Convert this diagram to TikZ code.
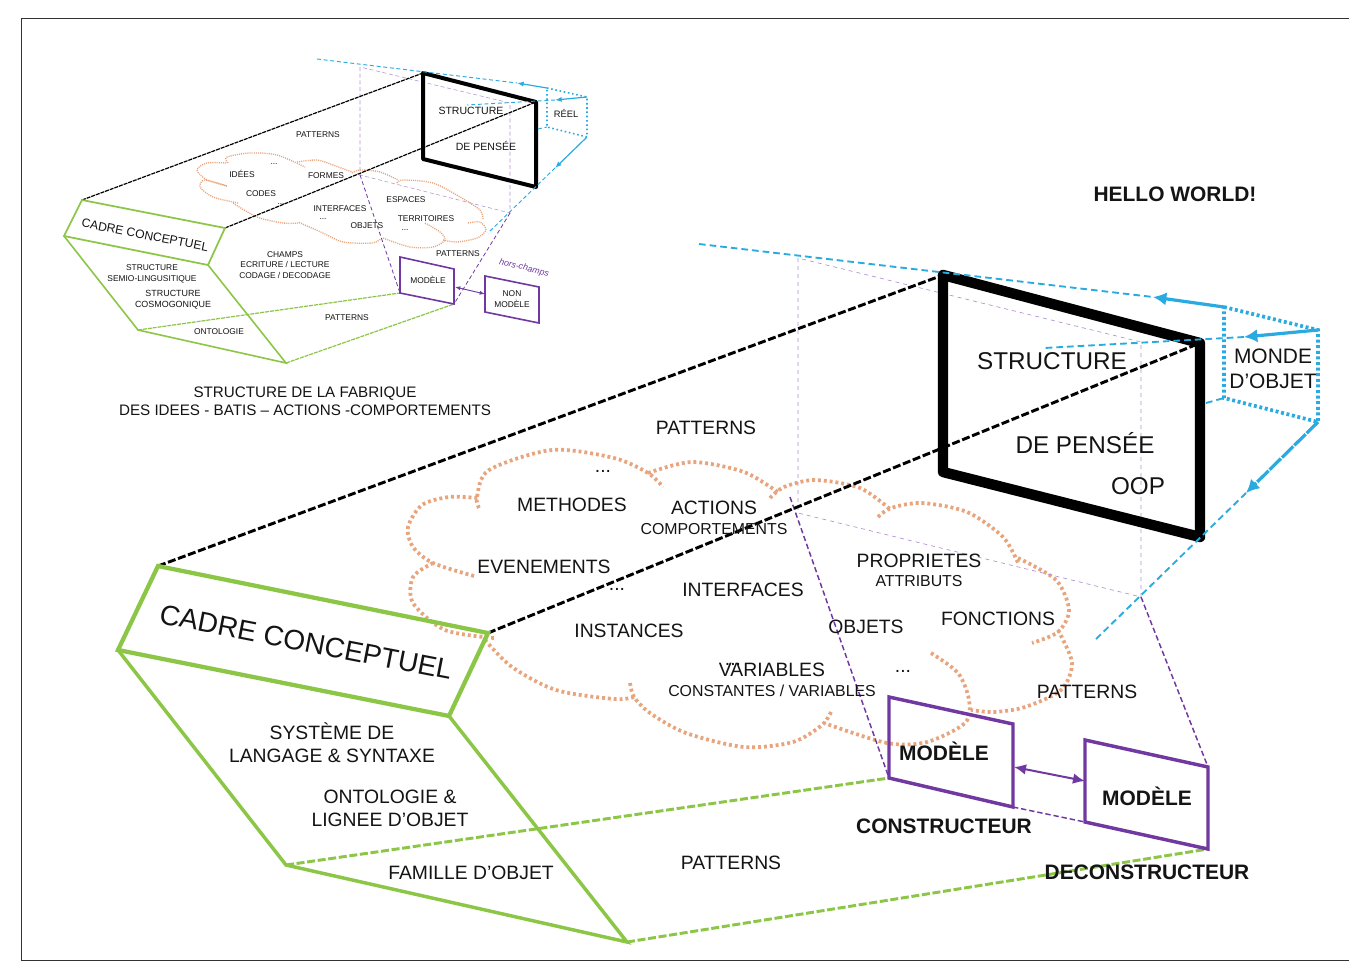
\documentclass[tikz,border=0pt]{standalone}
\usepackage{fontspec}
\setmainfont{Liberation Sans}
\usetikzlibrary{arrows.meta}
\definecolor{framegreen}{RGB}{140, 198, 70}
\definecolor{modelpurple}{RGB}{112, 56, 160}
\definecolor{palepurple}{RGB}{178, 145, 208}
\definecolor{worldblue}{RGB}{41, 171, 226}
\definecolor{cloudorange}{RGB}{232, 165, 125}
\definecolor{inkgrey}{RGB}{20, 20, 20}
\tikzset{
  lab/.style={text=inkgrey, inner sep=0pt, align=center},
  tinylab/.style={lab, font=\fontsize{6.3}{8}\selectfont},
  midlab/.style={lab, font=\fontsize{7.9}{9}\selectfont},
  sublab/.style={lab, font=\fontsize{11.9}{14}\selectfont},
  biglab/.style={lab, font=\fontsize{14.5}{17.2}\selectfont},
  hugelab/.style={lab, font=\fontsize{18.2}{22}\selectfont},
  boldlab/.style={lab, font=\fontsize{15.7}{19}\selectfont\bfseries},
  cloudbig/.style={cloudorange, line width=2.8pt, dash pattern=on 2.2pt off 2.2pt},
  cloudsmall/.style={cloudorange, line width=1pt, dash pattern=on 0.8pt off 0.8pt},
  longdash/.style={dash pattern=on 6pt off 2pt},
  smalldash/.style={dash pattern=on 3pt off 0.7pt},
  bluedash/.style={dash pattern=on 5pt off 3pt},
  purpledash/.style={dash pattern=on 4pt off 2.2pt},
}
\begin{document}
\begin{tikzpicture}[x=0.75pt, y=-0.75pt]
  \useasboundingbox (0,0) rectangle (1349,961);
  \fill[white] (0,0) rectangle (1349,961);
  \coordinate (pageA) at (21,960);
  \coordinate (pageB) at (21,18);
  \coordinate (pageC) at (1349,18);
  \coordinate (pageD) at (1349,960);
  \draw[black!80, line width=0.7pt] (pageA) -- (pageB) -- (pageC);
  \draw[black!80, line width=0.7pt] (pageA) -- (pageD);

  % small drawing, corners
  \coordinate (sf1) at (423,73);
  \coordinate (sf2) at (536,102);
  \coordinate (sf3) at (536,187);
  \coordinate (sf4) at (423,159);
  \coordinate (sc1) at (82,200);
  \coordinate (sc2) at (225,228);
  \coordinate (sc3) at (208,265);
  \coordinate (sc4) at (64,236);
  \coordinate (sc5) at (138,330);
  \coordinate (sc6) at (286,363);
  \coordinate (sm1) at (400,257);
  \coordinate (sm2) at (454,269);
  \coordinate (sm3) at (454,304);
  \coordinate (sm4) at (400,293);
  \coordinate (sn1) at (485,276);
  \coordinate (sn2) at (539,287);
  \coordinate (sn3) at (539,323);
  \coordinate (sn4) at (485,312);
  \coordinate (sp1) at (360,67);
  \coordinate (sp2) at (360,175);
  \coordinate (sp3) at (510,103);
  \coordinate (sp4) at (510,213);
  \coordinate (sb1) at (547,88);
  \coordinate (sb2) at (587,97);
  \coordinate (sb3) at (587,137);
  \coordinate (sb4) at (547,127);
  \coordinate (sb5) at (317,59);
  \coordinate (sb6) at (517,83);
  \coordinate (sb7) at (555,100);
  \coordinate (sb8) at (467,105);
  \coordinate (sb9) at (555,168);
  \coordinate (sb10) at (488,233);
  \coordinate (sb11) at (538,129);
  \coordinate (sa1) at (455,287);
  \coordinate (sa2) at (485,294);

  % small cloud
  \draw[cloudsmall] plot[smooth] coordinates {(228,163) (227,157) (250,153) (277,155) (305,167)};
  \draw[cloudsmall] plot[smooth] coordinates {(297,162) (317,160) (333,165) (352,172)};
  \draw[cloudsmall] plot[smooth] coordinates {(352,173) (360,170) (380,172) (398,180)};
  \draw[cloudsmall] plot[smooth] coordinates {(397,183) (403,180) (433,183) (460,197) (480,210) (483,220)};
  \draw[cloudsmall] plot[smooth] coordinates {(468,223) (480,222) (486,230) (477,238) (457,242) (443,240)};
  \draw[cloudsmall] plot[smooth] coordinates {(425,223) (440,232) (445,240) (433,247) (410,247) (383,238)};
  \draw[cloudsmall] plot[smooth] coordinates {(382,238) (372,243) (343,242) (323,233) (298,222)};
  \draw[cloudsmall] plot[smooth] coordinates {(298,223) (283,223) (257,217) (233,203)};
  \draw[cloudsmall] plot[smooth] coordinates {(238,203) (213,197) (200,187) (205,180) (227,186)};
  \draw[cloudsmall] plot[smooth] coordinates {(227,186) (207,180) (197,170) (207,163) (227,163)};

  % small drawing, lines
  \draw[palepurple, line width=0.4pt, densely dashed] (sp1) -- (sp2) -- (sp4) -- (sp3) -- cycle;
  \draw[modelpurple, line width=0.6pt, densely dashed] (sp2) -- (sm4);
  \draw[modelpurple, line width=0.6pt, densely dashed] (sp4) -- (sm3);
  \draw[black, line width=0.9pt, smalldash] (sc1) -- (sf1);
  \draw[black, line width=0.9pt, smalldash] (sc2) -- (sf2);
  \draw[framegreen, line width=0.9pt, smalldash] (sc5) -- (sm4);
  \draw[framegreen, line width=0.9pt, smalldash] (sc6) -- (sm3);
  \draw[black, line width=3pt, line join=round] (sf1) -- (sf2) -- (sf3) -- (sf4) -- cycle;
  \draw[framegreen, line width=1.3pt] (sc1) -- (sc2) -- (sc3) -- (sc4) -- cycle;
  \draw[framegreen, line width=1.2pt] (sc4) -- (sc5) -- (sc6) -- (sc3);
  \draw[modelpurple, line width=1.2pt] (sm1) -- (sm2) -- (sm3) -- (sm4) -- cycle;
  \draw[modelpurple, line width=1.2pt] (sn1) -- (sn2) -- (sn3) -- (sn4) -- cycle;
  \draw[modelpurple, line width=0.7pt, {Latex[length=4pt]}-{Latex[length=4pt]}] (sa1) -- (sa2);
  \draw[worldblue, line width=0.7pt, densely dashed] (sb5) -- (sb6);
  \draw[worldblue, line width=0.7pt, densely dashed] (sb7) -- (sb8);
  \draw[worldblue, line width=0.7pt, densely dashed] (sb9) -- (sb10);
  \draw[worldblue, line width=0.7pt, densely dashed] (sb11) -- (sb4);
  \draw[worldblue, line width=1.2pt, dotted] (sb1) -- (sb2) -- (sb3) -- (sb4) -- cycle;
  \draw[worldblue, line width=0.9pt, -{Latex[length=5pt]}] (sb1) -- (sb6);
  \draw[worldblue, line width=0.9pt, -{Latex[length=5pt]}] (sb2) -- (sb7);
  \draw[worldblue, line width=0.9pt, -{Latex[length=5pt]}] (sb3) -- (sb9);

  % small drawing, texts
  \node[midlab] (sstruct) at (471,111) {STRUCTURE};
  \node[midlab] (spensee) at (486,146) {DE PENSÉE};
  \node[lab, font=\fontsize{7}{8}\selectfont] (sreel) at (566,113) {RÉEL};
  \node[tinylab] (spat1) at (318,135) {PATTERNS};
  \node[tinylab] (sdots1) at (274,164) {...};
  \node[tinylab] (sidees) at (242,174) {IDÉES};
  \node[tinylab] (sformes) at (326,176) {FORMES};
  \node[tinylab] (scodes) at (261,194) {CODES};
  \node[tinylab] (sdots2) at (281,204) {...};
  \node[tinylab] (sinterf) at (340,209) {INTERFACES};
  \node[tinylab] (sdots3) at (323,219) {...};
  \node[tinylab] (sespaces) at (406,200) {ESPACES};
  \node[tinylab] (sobjets) at (367,226) {OBJETS};
  \node[tinylab] (sterr) at (426,219) {TERRITOIRES};
  \node[tinylab] (sdots4) at (405,230) {...};
  \node[tinylab] (spat2) at (458,254) {PATTERNS};
  \node[tinylab] (schamps) at (285,265) {CHAMPS\\ECRITURE / LECTURE\\CODAGE / DECODAGE};
  \node[tinylab] (ssemio) at (152,274) {STRUCTURE\\SEMIO-LINGUSITIQUE};
  \node[lab, font=\fontsize{6.7}{8.2}\selectfont] (scosmo) at (173,299.5) {STRUCTURE\\COSMOGONIQUE};
  \node[tinylab] (sonto) at (219,332) {ONTOLOGIE};
  \node[tinylab] (spat3) at (347,318) {PATTERNS};
  \node[tinylab] (smodele) at (428,280) {MODÈLE};
  \node[tinylab] (snon) at (512,299) {NON\\MODÈLE};
  \node[lab, font=\fontsize{9.1}{11}\selectfont, rotate=-11] (scadre) at (145,235) {CADRE CONCEPTUEL};
  \node[lab, font=\fontsize{6.6}{8}\selectfont\itshape, text=modelpurple, rotate=-14] (shors) at (524,268) {hors-champs};
  \node[lab, font=\fontsize{11.4}{13.5}\selectfont] (sfab) at (305,401) {STRUCTURE DE LA FABRIQUE\\DES IDEES - BATIS – ACTIONS -COMPORTEMENTS};

  % big drawing, corners
  \coordinate (bf1) at (943,275);
  \coordinate (bf2) at (1200,343);
  \coordinate (bf3) at (1200,537);
  \coordinate (bf4) at (943,472);
  \coordinate (bc1) at (158,566);
  \coordinate (bc2) at (488,633);
  \coordinate (bc3) at (449,716);
  \coordinate (bc4) at (118,650);
  \coordinate (bc5) at (286,865);
  \coordinate (bc6) at (627,942);
  \coordinate (bm1) at (889,697);
  \coordinate (bm2) at (1013,724);
  \coordinate (bm3) at (1013,807);
  \coordinate (bm4) at (889,778);
  \coordinate (bn1) at (1085,740);
  \coordinate (bn2) at (1208,767);
  \coordinate (bn3) at (1208,849);
  \coordinate (bn4) at (1085,822);
  \coordinate (bp1) at (798,258);
  \coordinate (bp2) at (798,513);
  \coordinate (bp3) at (1141,342);
  \coordinate (bp4) at (1141,597);
  \coordinate (bp5) at (790,497);
  \coordinate (bb1) at (1224,307);
  \coordinate (bb2) at (1318,330);
  \coordinate (bb3) at (1318,422);
  \coordinate (bb4) at (1224,398);
  \coordinate (bb5) at (699,244);
  \coordinate (bb6) at (1153,297);
  \coordinate (bb7) at (1244,337);
  \coordinate (bb8) at (1044,348);
  \coordinate (bb9) at (1246,493);
  \coordinate (bb10) at (1094,641);
  \coordinate (bb11) at (1206,403);
  \coordinate (ba1) at (1014,767);
  \coordinate (ba2) at (1085,781);

  % big cloud
  \draw[cloudbig] plot[smooth] coordinates {(479,508) (477,497) (489,470) (552,450) (614,458) (648,473) (663,487)};
  \draw[cloudbig] plot[smooth] coordinates {(648,473) (692,462) (744,472) (779,493)};
  \draw[cloudbig] plot[smooth] coordinates {(770,498) (784,487) (815,480) (860,488) (891,510)};
  \draw[cloudbig] plot[smooth] coordinates {(878,517) (891,508) (922,503) (967,512) (1003,537) (1018,563)};
  \draw[cloudbig] plot[smooth] coordinates {(1018,558) (1056,580) (1069,610) (1058,632) (1032,643)};
  \draw[cloudbig] plot[smooth] coordinates {(1058,630) (1072,663) (1061,690) (1025,707) (994,712) (971,710)};
  \draw[cloudbig] plot[smooth] coordinates {(931,653) (958,673) (969,700) (965,723) (927,742) (887,743) (824,723)};
  \draw[cloudbig] plot[smooth] coordinates {(831,712) (822,725) (793,742) (744,747) (686,733) (650,713) (634,697) (630,683)};
  \draw[cloudbig] plot[smooth] coordinates {(634,697) (614,699) (556,690) (512,667) (485,640)};
  \draw[cloudbig] plot[smooth] coordinates {(494,638) (445,630) (413,603) (413,577) (433,563)};
  \draw[cloudbig] plot[smooth] coordinates {(474,576) (433,563) (413,547) (408,527) (422,505) (449,497) (478,498)};

  % big drawing, lines
  \draw[palepurple, line width=0.5pt, dashed] (bp1) -- (bp2) -- (bp4) -- (bp3) -- cycle;
  \draw[modelpurple, line width=1.1pt, purpledash] (bp5) -- (bm4);
  \draw[modelpurple, line width=1.1pt, purpledash] (bp4) -- (bn2);
  \draw[modelpurple, line width=1.1pt, purpledash] (bm3) -- (bn4);
  \draw[black, line width=2.2pt, longdash] (bc1) -- (bf1);
  \draw[black, line width=2.2pt, longdash] (bc2) -- (bf2);
  \draw[framegreen, line width=2.2pt, longdash] (bc5) -- (bm4);
  \draw[framegreen, line width=2.2pt, longdash] (bc6) -- (bn3);
  \draw[black, line width=7.8pt, line join=round] (bf1) -- (bf2) -- (bf3) -- (bf4) -- cycle;
  \draw[framegreen, line width=3.2pt] (bc1) -- (bc2) -- (bc3) -- (bc4) -- cycle;
  \draw[framegreen, line width=2.6pt] (bc4) -- (bc5) -- (bc6) -- (bc3);
  \draw[modelpurple, line width=2.6pt] (bm1) -- (bm2) -- (bm3) -- (bm4) -- cycle;
  \draw[modelpurple, line width=2.6pt] (bn1) -- (bn2) -- (bn3) -- (bn4) -- cycle;
  \draw[modelpurple, line width=1.5pt, {Latex[length=9pt,width=8pt]}-{Latex[length=9pt,width=8pt]}] (ba1) -- (ba2);
  \draw[worldblue, line width=1.4pt, bluedash] (bb5) -- (bb6);
  \draw[worldblue, line width=1.4pt, bluedash] (bb7) -- (bb8);
  \draw[worldblue, line width=1.4pt, bluedash] (bb9) -- (bb10);
  \draw[worldblue, line width=1.4pt, bluedash] (bb11) -- (bb4);
  \draw[worldblue, line width=2.8pt, dash pattern=on 2.2pt off 2pt] (bb1) -- (bb2) -- (bb3) -- (bb4) -- cycle;
  \draw[worldblue, line width=2.4pt, -{Latex[length=10pt,width=10pt]}] (bb1) -- (bb6);
  \draw[worldblue, line width=2.4pt, -{Latex[length=10pt,width=10pt]}] (bb2) -- (bb7);
  \draw[worldblue, line width=2.4pt, dash pattern=on 12pt off 1pt, -{Latex[length=10pt,width=10pt]}] (bb3) -- (bb9);

  % big drawing, texts
  \node[boldlab] (bhello) at (1175,194) {HELLO WORLD!};
  \node[hugelab] (bstruct) at (1052,361) {STRUCTURE};
  \node[hugelab] (bpensee) at (1085,443) {DE PENSÉE};
  \node[hugelab] (boop) at (1138,486) {OOP};
  \node[lab, font=\fontsize{15.7}{18.4}\selectfont] (bmonde) at (1273,369) {MONDE\\D’OBJET};
  \node[biglab] (bpat1) at (706,428) {PATTERNS};
  \node[biglab] (bdots1) at (603,471) {...};
  \node[biglab] (bmeth) at (572,505) {METHODES};
  \node[biglab] (bactions) at (714,508) {ACTIONS};
  \node[sublab] (bcompo) at (714,529) {COMPORTEMENTS};
  \node[biglab] (bevent) at (544,567) {EVENEMENTS};
  \node[biglab] (bdots2) at (617,589) {...};
  \node[biglab] (binterf) at (743,590) {INTERFACES};
  \node[biglab] (bprop) at (919,561) {PROPRIETES};
  \node[sublab] (battr) at (919,581) {ATTRIBUTS};
  \node[biglab] (bfonc) at (998,619) {FONCTIONS};
  \node[biglab] (binst) at (629,631) {INSTANCES};
  \node[biglab] (bobjets) at (866,627) {OBJETS};
  \node[biglab] (bvar) at (772,670) {VARIABLES};
  \node[sublab] (bconst) at (772,691) {CONSTANTES / VARIABLES};
  \node[biglab] (bdots4) at (733,664) {...};
  \node[biglab] (bdots3) at (903,671) {...};
  \node[biglab] (bpat2) at (1087,692) {PATTERNS};
  \node[biglab] (bsys) at (332,743) {SYSTÈME DE\\LANGAGE \& SYNTAXE};
  \node[biglab] (bonto) at (390,808) {ONTOLOGIE \&\\LIGNEE D’OBJET};
  \node[biglab] (bfam) at (471,873) {FAMILLE D’OBJET};
  \node[biglab] (bpat3) at (731,863) {PATTERNS};
  \node[boldlab] (bmod1) at (944,751) {MODÈLE};
  \node[boldlab] (bmod2) at (1147,796) {MODÈLE};
  \node[boldlab] (bconstr) at (944,826) {CONSTRUCTEUR};
  \node[boldlab] (bdeconstr) at (1147,872) {DECONSTRUCTEUR};
  \node[lab, font=\fontsize{21}{24}\selectfont, rotate=-11] (bcadre) at (306,642) {CADRE CONCEPTUEL};
\end{tikzpicture}
\end{document}
